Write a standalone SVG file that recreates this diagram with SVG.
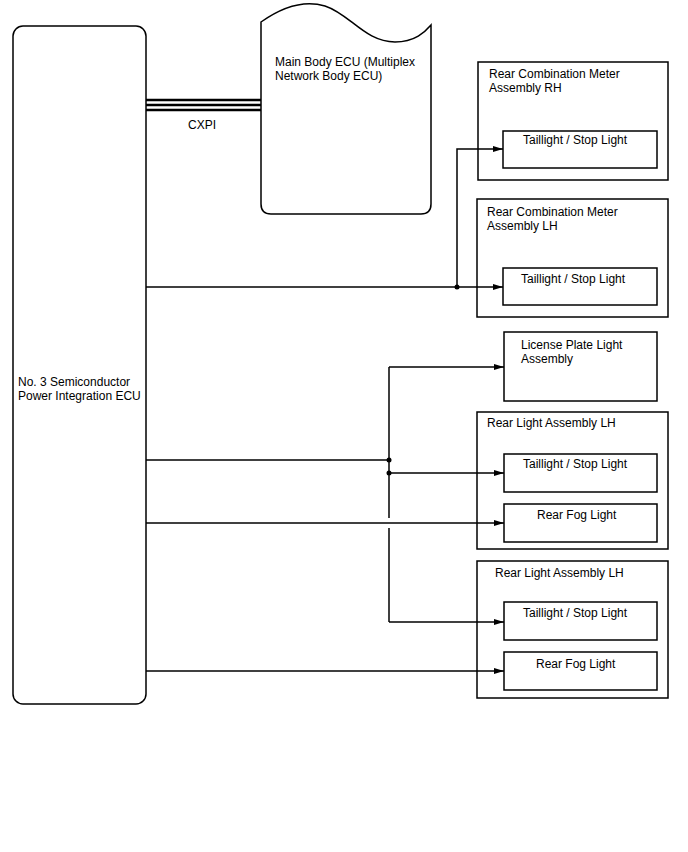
<svg xmlns="http://www.w3.org/2000/svg" width="688" height="852" viewBox="0 0 688 852">
<defs>
<style>
.box{fill:#fff;stroke:#000;stroke-width:1.5}
.ln{fill:none;stroke:#000;stroke-width:1.5}
.bus{fill:none;stroke:#000;stroke-width:2.5}
.arr{fill:none;stroke:#000;stroke-width:1.5;marker-end:url(#ah)}
.t{font-family:"Liberation Sans",Arial,sans-serif;font-size:12px;fill:#000}
.dot{fill:#000}
</style>
<marker id="ah" viewBox="0 0 10 6" refX="10" refY="3" markerWidth="10" markerHeight="6" markerUnits="userSpaceOnUse" orient="auto">
<path d="M0,0 L10,3 L0,6 Z" fill="#000"/>
</marker>
</defs>
<rect width="688" height="852" fill="#fff"/>

<g id="semiconductor-ecu">
<rect class="box" x="13" y="26" width="133" height="678" rx="10"/>
<text class="t" x="18" y="386">No. 3 Semiconductor</text>
<text class="t" x="18" y="400">Power Integration ECU</text>
</g>

<g id="main-body-ecu">
<path class="box" d="M261,22 C285,5 305,0 325,6 C350,14 365,42 395,42 C415,42 425,32 431,25 V204 Q431,214 421,214 H271 Q261,214 261,204 Z"/>
<text class="t" x="275" y="66">Main Body ECU (Multiplex</text>
<text class="t" x="275" y="80">Network Body ECU)</text>
</g>

<g id="rcm-rh">
<rect class="box" x="478" y="62" width="190" height="118"/>
<text class="t" x="489" y="78">Rear Combination Meter</text>
<text class="t" x="489" y="92">Assembly RH</text>
<rect class="box" x="503" y="131" width="154" height="37"/>
<text class="t" x="523" y="144">Taillight / Stop Light</text>
</g>

<g id="rcm-lh">
<rect class="box" x="477" y="199" width="191" height="118"/>
<text class="t" x="487" y="216">Rear Combination Meter</text>
<text class="t" x="487" y="230">Assembly LH</text>
<rect class="box" x="503" y="268" width="154" height="37"/>
<text class="t" x="521" y="283">Taillight / Stop Light</text>
</g>

<g id="license-plate">
<rect class="box" x="504" y="332" width="153" height="69"/>
<text class="t" x="521" y="349">License Plate Light</text>
<text class="t" x="521" y="363">Assembly</text>
</g>

<g id="rear-light-lh-1">
<rect class="box" x="477" y="412" width="191" height="137"/>
<text class="t" x="487" y="427">Rear Light Assembly LH</text>
<rect class="box" x="504" y="454" width="153" height="38"/>
<text class="t" x="523" y="468">Taillight / Stop Light</text>
<rect class="box" x="504" y="504" width="153" height="38"/>
<text class="t" x="537" y="519">Rear Fog Light</text>
</g>

<g id="rear-light-lh-2">
<rect class="box" x="477" y="561" width="191" height="137"/>
<text class="t" x="495" y="577">Rear Light Assembly LH</text>
<rect class="box" x="504" y="602" width="153" height="38"/>
<text class="t" x="523" y="617">Taillight / Stop Light</text>
<rect class="box" x="504" y="652" width="153" height="38"/>
<text class="t" x="536" y="668">Rear Fog Light</text>
</g>

<g id="connectors">
<line class="bus" x1="146" y1="100" x2="261" y2="100"/>
<line class="bus" x1="146" y1="105" x2="261" y2="105"/>
<line class="bus" x1="146" y1="110" x2="261" y2="110"/>
<text class="t" x="188" y="129">CXPI</text>
<path class="arr" d="M146,287 H503"/>
<path class="arr" d="M457,287 V149 H503"/>
<circle class="dot" cx="457" cy="287" r="2.5"/>
<path class="ln" d="M146,460 H389"/>
<path class="ln" d="M389,367 V518"/>
<path class="ln" d="M389,528 V622"/>
<path class="arr" d="M389,367 H504"/>
<path class="arr" d="M389,473 H504"/>
<path class="arr" d="M389,622 H504"/>
<circle class="dot" cx="389" cy="460" r="2.5"/>
<circle class="dot" cx="389" cy="473" r="2.5"/>
<path class="arr" d="M146,523 H504"/>
<path class="arr" d="M146,671 H504"/>
</g>
</svg>
